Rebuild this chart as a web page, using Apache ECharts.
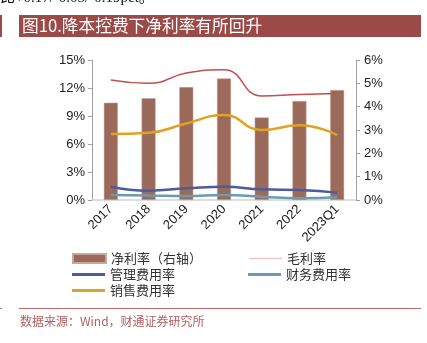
<!DOCTYPE html>
<html><head><meta charset="utf-8">
<script src="https://cdn.jsdelivr.net/npm/echarts@6/dist/echarts.min.js"></script>
<style>html,body{margin:0;padding:0;background:#fff}#c{width:427px;height:343px}</style>
</head><body><div id="c"></div>
<script>
var categories = ['2017','2018','2019','2020','2021','2022','2023Q1'];
var netMargin = [4.17, 4.36, 4.84, 5.21, 3.54, 4.24, 4.71];
var grossMargin = [12.86, 12.5, 13.6, 13.95, 11.14, 11.3, 11.4];
var adminRate = [1.43, 1.0, 1.25, 1.43, 1.14, 1.07, 0.79];
var financeRate = [0.54, 0.48, 0.43, 0.54, 0.36, 0.18, 0.29];
var salesRate = [7.07, 7.2, 8.2, 9.1, 7.5, 8.0, 6.96];
var leftTicks = [0, 15, 3];
var rightTicks = [0, 6, 1];

var chart = echarts.init(document.getElementById('c'));
var cjk = '"Noto Sans CJK SC", sans-serif';
var legendText = {fontSize: 13, color: '#333', fontFamily: cjk};
function lg(name, left, top, h, extra) {
  var d = {name: name};
  if (extra) Object.assign(d, extra);
  return {data: [d], left: left, top: top, padding: 0, itemWidth: 33, itemHeight: h, icon: 'rect', textStyle: legendText, selectedMode: false};
}
chart.setOption({
  animation: false,
  grid: {left: 92, right: 71, top: 60, bottom: 143},
  legend: [
    lg('净利率（右轴）', 72, 252, 9),
    lg('毛利率', 249, 252, 1.5, {itemStyle: {color: '#ecc8c8'}}),
    lg('管理费用率', 72, 268, 3),
    lg('财务费用率', 248, 268, 3),
    lg('销售费用率', 72, 284, 3)
  ],
  graphic: [
    {type: 'text', left: 0, top: -9, style: {text: '比+0.17/-0.05/-0.19pct。', font: '15px "Liberation Serif", "Noto Sans CJK SC"', fill: '#111'}},
    {type: 'rect', shape: {x: 0, y: 15, width: 2, height: 22}, style: {fill: '#9c4a47'}},
    {type: 'rect', shape: {x: 19, y: 15, width: 402, height: 22}, style: {fill: '#9c4a47'}},
    {type: 'text', left: 22, top: 17, style: {text: '图10.降本控费下净利率有所回升', font: '16.7px "Noto Sans CJK SC"', fill: '#fff'}},
    {type: 'rect', shape: {x: 19, y: 308, width: 402, height: 1}, style: {fill: '#b86a66'}},
    {type: 'rect', shape: {x: 0, y: 308, width: 2, height: 1}, style: {fill: '#b86a66'}},
    {type: 'text', left: 20, top: 315, style: {text: '数据来源：Wind，财通证券研究所', font: '12px "Noto Sans CJK SC"', fill: '#b06060'}}
  ],
  xAxis: {
    type: 'category', data: categories,
    axisLine: {lineStyle: {color: '#d4d4d4', width: 1.5}},
    axisTick: {show: false},
    axisLabel: {rotate: 45, fontSize: 13, color: '#222', margin: 7, fontFamily: 'Liberation Sans, Arial', interval: 0}
  },
  yAxis: [
    {type: 'value', min: leftTicks[0], max: leftTicks[1], interval: leftTicks[2], position: 'left',
     axisLine: {show: true, lineStyle: {color: '#a0a0a0'}}, axisTick: {show: true, length: 4, lineStyle: {color: '#a0a0a0'}},
     splitLine: {show: false},
     axisLabel: {formatter: '{value}%', fontSize: 13, color: '#222', margin: 7, fontFamily: 'Liberation Sans, Arial'}},
    {type: 'value', min: rightTicks[0], max: rightTicks[1], interval: rightTicks[2], position: 'right',
     axisLine: {show: true, lineStyle: {color: '#a0a0a0'}}, axisTick: {show: true, length: 4, lineStyle: {color: '#a0a0a0'}},
     splitLine: {show: false},
     axisLabel: {formatter: '{value}%', fontSize: 13, color: '#222', margin: 8, fontFamily: 'Liberation Sans, Arial'}}
  ],
  series: [
    {name: '净利率（右轴）', type: 'bar', yAxisIndex: 1, data: netMargin, barWidth: 14,
     itemStyle: {color: '#9b6a5b', borderColor: '#c9a89c', borderWidth: 0.5}},
    {name: '毛利率', type: 'line', data: grossMargin, smooth: true, symbol: 'none', lineStyle: {color: '#c0504d', width: 1.5}, itemStyle: {color: '#c0504d'}},
    {name: '管理费用率', type: 'line', data: adminRate, smooth: true, symbol: 'none', lineStyle: {color: '#4f5a9e', width: 2.5}, itemStyle: {color: '#4f5a9e'}},
    {name: '财务费用率', type: 'line', data: financeRate, smooth: true, symbol: 'none', lineStyle: {color: '#6a9cb0', width: 2.5}, itemStyle: {color: '#6a9cb0'}},
    {name: '销售费用率', type: 'line', data: salesRate, smooth: true, symbol: 'none', lineStyle: {color: '#e2a221', width: 2.5}, itemStyle: {color: '#e2a221'}}
  ]
});
</script></body></html>
